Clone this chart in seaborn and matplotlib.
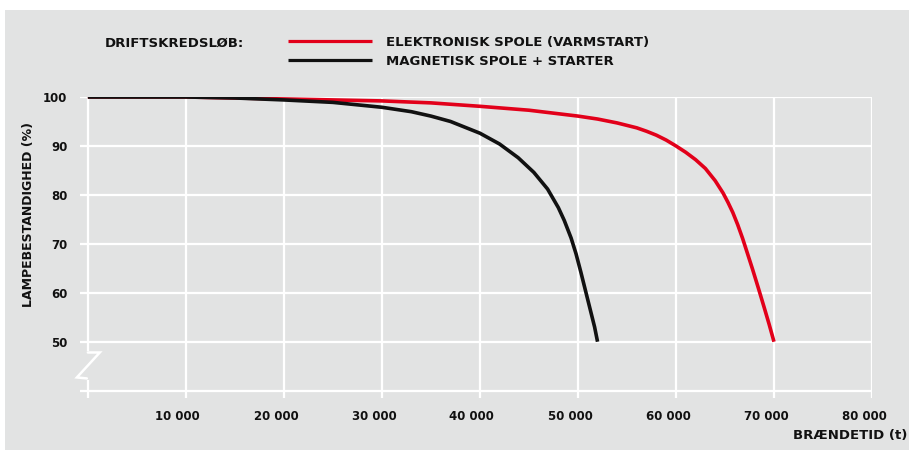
import matplotlib
matplotlib.use("Agg")
import matplotlib.pyplot as plt
import matplotlib.transforms as mtransforms
from matplotlib.patches import Rectangle
import seaborn as sns
import pandas as pd

# ---- data ----
elek_x = [0, 10000, 20000, 30000, 35000, 40000, 45000, 50000, 52000, 54000,
          56000, 57000, 58000, 59000, 60000, 61000, 62000, 63000, 64000, 64800,
          65300, 65800, 66300, 66800, 67300, 67800, 68400, 69000, 69500, 70000]
elek_y = [100, 100, 99.6, 99.2, 98.8, 98.1, 97.3, 96.1, 95.5, 94.7,
          93.7, 93.0, 92.2, 91.2, 90.0, 88.7, 87.2, 85.4, 82.9, 80.4,
          78.5, 76.4, 73.9, 71.1, 68.0, 64.9, 61.0, 57.0, 53.6, 50.0]
mag_x = [0, 10000, 15000, 20000, 25000, 30000, 33000, 35000, 37000, 40000, 42000,
         43900, 45500, 46900, 48000, 48600, 49300, 49800, 50300, 50650, 51000,
         51400, 51700, 52000]
mag_y = [100, 100, 99.8, 99.4, 98.9, 97.9, 97.0, 96.1, 95.0, 92.6, 90.4,
         87.6, 84.6, 81.2, 77.4, 74.8, 71.2, 68.0, 64.2, 61.4, 58.6,
         55.4, 53.0, 50.0]
series_names = ["ELEKTRONISK SPOLE (VARMSTART)", "MAGNETISK SPOLE + STARTER"]
legend_title = "DRIFTSKREDSLØB:"
x_ticks = [0, 10000, 20000, 30000, 40000, 50000, 60000, 70000, 80000]
x_labels = ["", "10 000", "20 000", "30 000", "40 000", "50 000", "60 000", "70 000", "80 000"]
y_ticks = [40, 50, 60, 70, 80, 90, 100]
y_labels = ["", "50", "60", "70", "80", "90", "100"]
x_title = "BRÆNDETID (t)"
y_title = "LAMPEBESTANDIGHED (%)"

df = pd.concat([
    pd.DataFrame({"t": elek_x, "pct": elek_y, "serie": series_names[0]}),
    pd.DataFrame({"t": mag_x, "pct": mag_y, "serie": series_names[1]}),
])

bg = "#e2e3e3"
sns.set_theme(style="white")
plt.rcParams["font.family"] = ["DejaVu Sans"]
plt.rcParams["font.weight"] = "bold"

W, H = 909, 450
fig = plt.figure(figsize=(W / 100, H / 100), dpi=100, facecolor="white")
fig.patches.append(Rectangle((5 / W, 0), 1, 1 - 10 / H, transform=fig.transFigure,
                             facecolor=bg, edgecolor="none", zorder=-10))
ax = fig.add_axes([80 / W, 1 - 398 / H, (872 - 80) / W, (398 - 97) / H])
ax.set_facecolor(bg)

sns.lineplot(data=df, x="t", y="pct", hue="serie", hue_order=series_names,
             palette=["#e2001a", "#111111"], linewidth=2.6, sort=False,
             estimator=None, ax=ax, zorder=3)
for ln in ax.get_lines():
    ln.set_solid_joinstyle("round")
    ln.set_solid_capstyle("butt")

ax.set_xlim(-800, 80000)
ax.set_ylim(38.5, 100)
ax.set_xticks(x_ticks)
ax.set_xticklabels(x_labels)
ax.set_yticks(y_ticks)
ax.set_yticklabels(y_labels)
ax.tick_params(length=0, labelsize=8.5, colors="#111111")
ax.tick_params(axis="x", pad=9)
ax.tick_params(axis="y", pad=9)
for lab in ax.get_xticklabels():
    lab.set_transform(lab.get_transform() +
                      mtransforms.ScaledTranslation(-8 / 100, 0, fig.dpi_scale_trans))
for lab in ax.get_xticklabels() + ax.get_yticklabels():
    lab.set_fontweight("bold")

ax.grid(True, color="white", linewidth=1.6, zorder=0)
ax.set_axisbelow(True)
for s in ax.spines.values():
    s.set_visible(False)

ax.set_xlabel("")
ax.set_ylabel(y_title, fontsize=9, fontweight="bold", color="#111111")
ax.yaxis.set_label_coords(-0.057, 0.608)
fig.text(907 / W, 1 - 435 / H, x_title, ha="right", va="center",
         fontsize=9.5, fontweight="bold", color="#111111")

# axis break symbol
ax.plot([0, 0], [47.6, 42.6], color=bg, linewidth=3, zorder=1, clip_on=False)
ax.plot([0, 1220, -1120, -100], [47.8, 47.8, 42.7, 42.5], color="white",
        linewidth=1.8, zorder=2, clip_on=False, solid_joinstyle="miter")

# legend
handles, labels = ax.get_legend_handles_labels()
leg = ax.legend(handles, labels, loc="upper left",
                bbox_to_anchor=(288 / W, 1 - 36 / H), bbox_transform=fig.transFigure,
                frameon=False, handlelength=6.4, handletextpad=1.0, borderpad=0,
                borderaxespad=0, labelspacing=0.45, prop={"size": 9.5, "weight": "bold"})
for t in leg.get_texts():
    t.set_color("#111111")
for l in leg.get_lines():
    l.set_linewidth(2.3)
fig.text(105 / W, 1 - 43 / H, legend_title, ha="left", va="center",
         fontsize=9.5, fontweight="bold", color="#111111")

fig.savefig("out.png", dpi=100, facecolor="white")
